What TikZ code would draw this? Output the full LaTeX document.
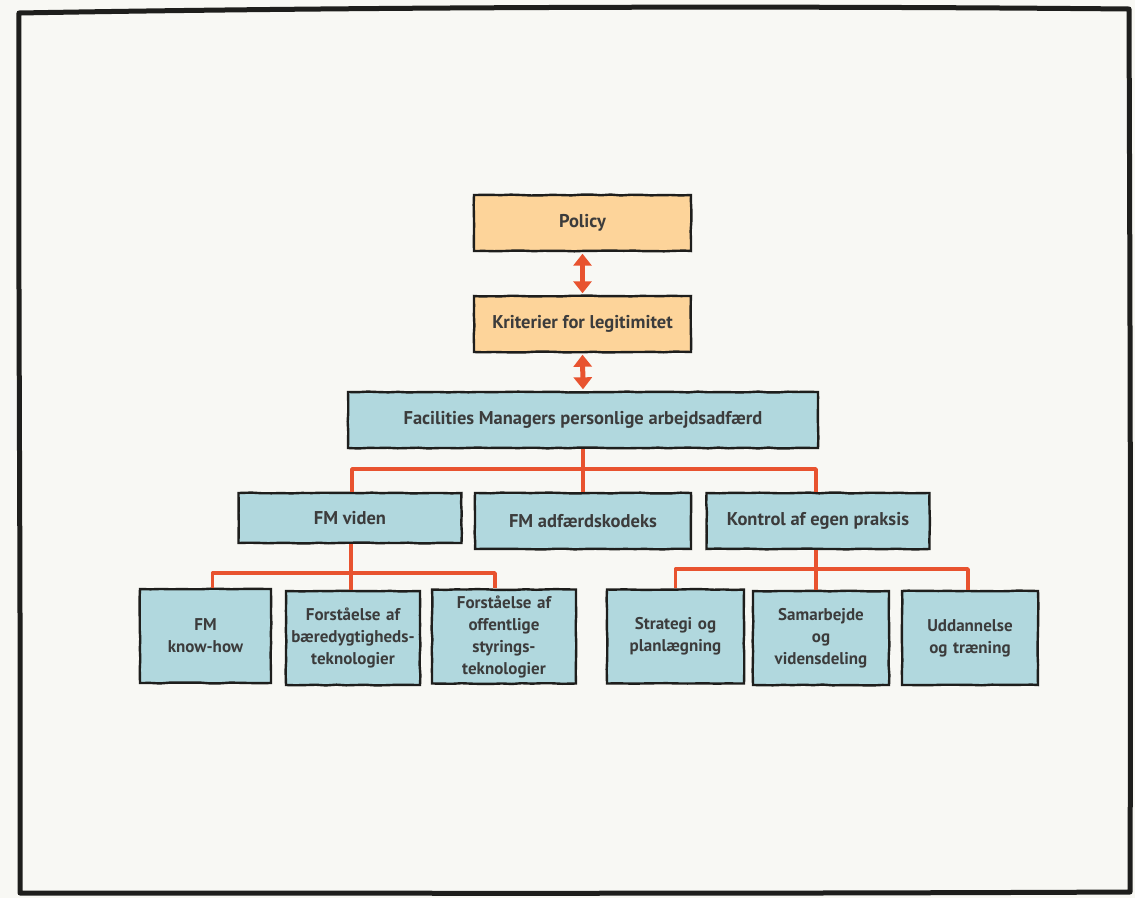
\documentclass[tikz,border=0pt]{standalone}
\usepackage{fontspec}
\setmainfont{PT Sans}
\usetikzlibrary{arrows.meta,decorations.pathmorphing}
\definecolor{paper}{HTML}{F8F8F4}
\definecolor{ink}{HTML}{1E1E1C}
\definecolor{txt}{HTML}{3C3C3C}
\definecolor{peach}{HTML}{FDD49A}
\definecolor{aqua}{HTML}{B1D8DE}
\definecolor{wire}{HTML}{E8532F}
\begin{document}
\begin{tikzpicture}[x=1pt,y=-1pt,
  box/.style={draw=ink,line width=2.4pt,text=txt,align=center,inner sep=0pt,
    font=\fontsize{17}{22}\bfseries\selectfont,
    decorate,decoration={random steps,segment length=10pt,amplitude=0.45pt}},
  big/.style={font=\fontsize{18.5}{22}\bfseries\selectfont},
  upper/.style={box,big,fill=peach,minimum width=217pt,minimum height=56pt},
  mid/.style={box,big,fill=aqua,minimum height=54pt},
  leaf/.style={box,fill=aqua,minimum height=94pt},
  conn/.style={wire,line width=3.8pt,line join=round},
  dbl/.style={wire,line width=5pt,
    {Triangle[width=18pt,length=12pt]}-{Triangle[width=18pt,length=12pt]},
    shorten <=1.5pt,shorten >=1.5pt}]
\pgfmathsetseed{7}
% paper
\fill[paper] (0,0) rectangle (1135,898);
\useasboundingbox (0,0) rectangle (1135,898);
% sketchy outer frame
\draw[ink,line width=5pt,line cap=round,line join=round]
  (19,13) .. controls (300,8) and (700,5) .. (1129,9)
  .. controls (1130,300) and (1131,600) .. (1130,892)
  .. controls (700,894) and (300,893) .. (20,893)
  .. controls (21,600) and (18,300) .. (19,13) -- cycle;

% top of the hierarchy
\node[upper] (policy) at (582.5,223) {Policy};
\node[upper] (krit) at (582.5,324) {Kriterier for legitimitet};
\node[mid,minimum width=470pt,minimum height=56pt] (fac) at (583,420) {Facilities Managers personlige arbejdsadfærd};

% second level
\node[mid,minimum width=223pt,minimum height=50pt] (viden) at (350,518) {FM viden};
\node[mid,minimum width=216pt,minimum height=56pt] (adf) at (583,521) {FM adfærdskodeks};
\node[mid,minimum width=223pt,minimum height=56pt] (kontrol) at (818,521) {Kontrol af egen praksis};

% leaves under FM viden
\node[leaf,minimum width=131pt,text width=125pt] (knowhow) at (205.5,636) {FM\\know-how};
\node[leaf,minimum width=132pt,text width=134pt] (baer) at (353,638) {Forståelse af\\bæredygtigheds-\\teknologier};
\node[leaf,minimum width=144pt,text width=138pt] (off) at (504,636.5) {Forståelse af\\offentlige\\styrings-\\teknologier};

% leaves under Kontrol af egen praksis
\node[leaf,minimum width=137pt,text width=130pt] (strat) at (675.5,636.5) {Strategi og\\planlægning};
\node[leaf,minimum width=136pt,text width=130pt] (samar) at (821,638) {Samarbejde\\og\\vidensdeling};
\node[leaf,minimum width=136pt,text width=130pt] (udd) at (970,638) {Uddannelse\\og træning};

% bus points
\coordinate (busA) at (583,469);
\coordinate (busB) at (351,573);
\coordinate (busC) at (816,569);

% connectors
\draw[dbl] (policy.south) -- (krit.north);
\draw[dbl] (krit.south) -- (fac.north);

\draw[conn] (fac.south) -- (adf.north);
\draw[conn] ([xshift=2pt]viden.north) |- (busA) -| ([xshift=-2pt]kontrol.north);

\draw[conn] ([xshift=1pt]viden.south) -- ([xshift=-2pt]baer.north);
\draw[conn] ([xshift=7pt]knowhow.north) |- (busB) -| ([xshift=-9pt]off.north);

\draw[conn] ([xshift=-2pt]kontrol.south) -- ([xshift=-5pt]samar.north);
\draw[conn] (strat.north) |- (busC) -| ([xshift=-2pt]udd.north);
\end{tikzpicture}
\end{document}
